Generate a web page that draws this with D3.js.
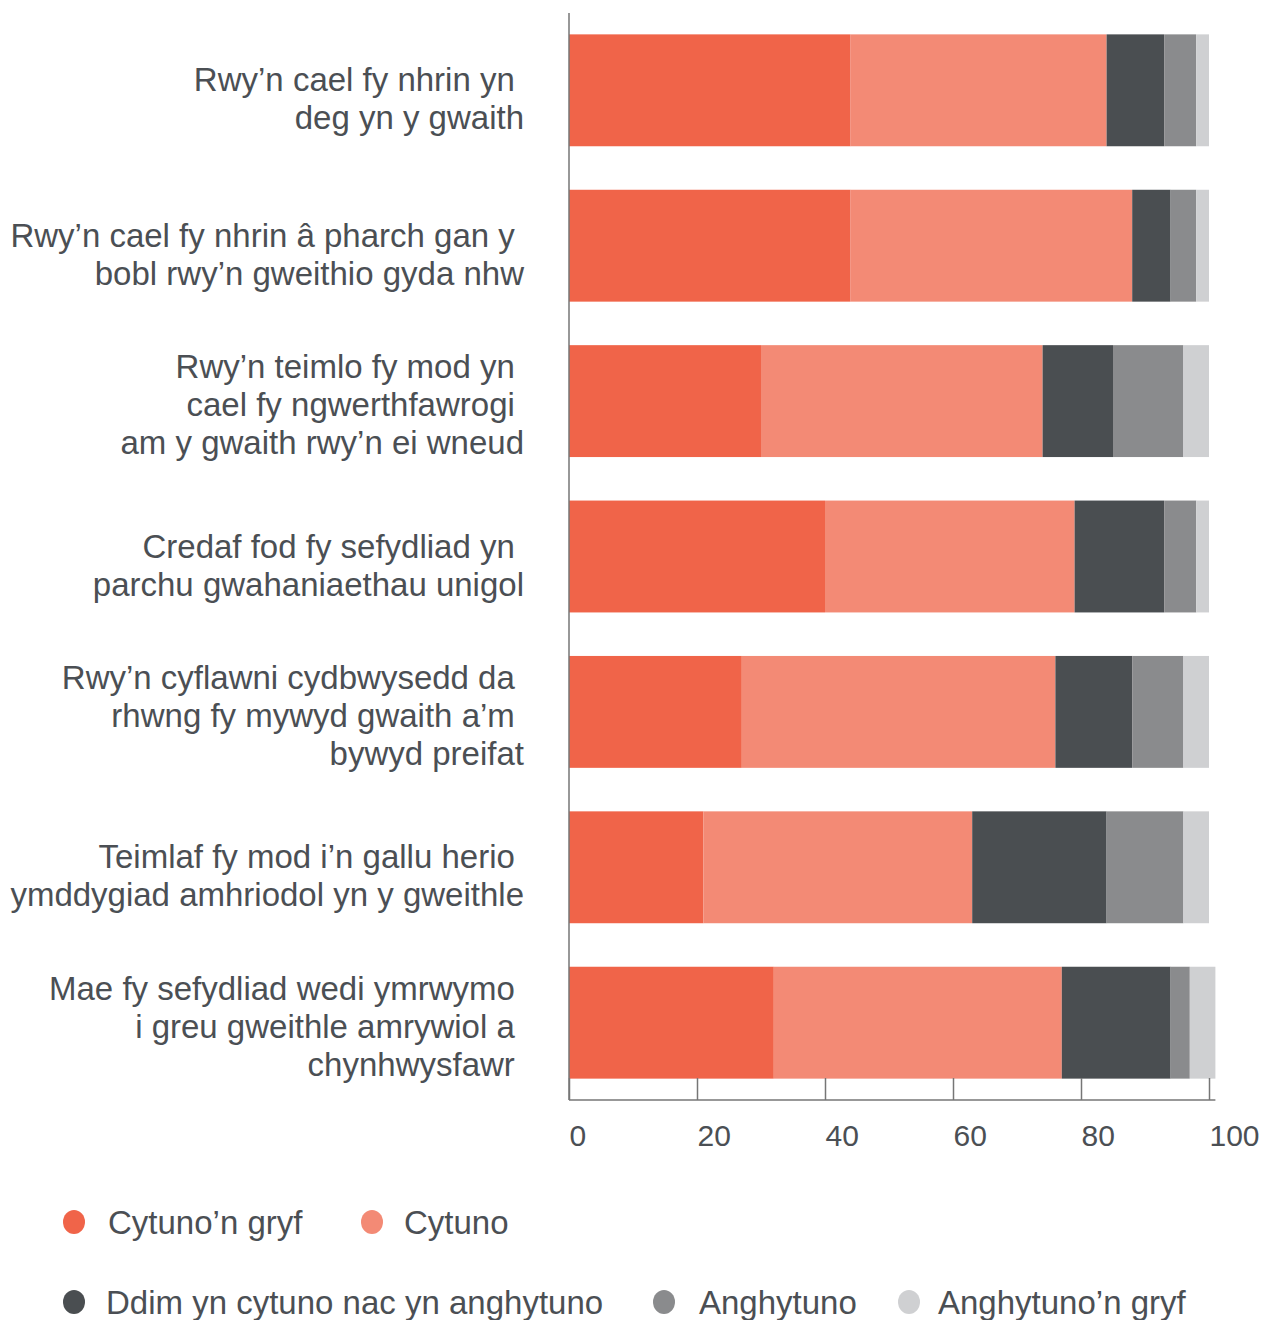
<!DOCTYPE html>
<html lang="cy">
<head>
<meta charset="UTF-8">
<title>Stacked bar</title>
<script src="https://d3js.org/d3.v7.min.js"></script>
<style>
  body { margin: 0; background: #fff; font-family: "Liberation Sans", Arial, sans-serif; }
  svg text { fill: #4b4f54; }
</style>
</head>
<body>
<script>
// categories (each entry is the lines of a wrapped label)
const categories = [
  ["Rwy’n cael fy nhrin yn ", "deg yn y gwaith"],
  ["Rwy’n cael fy nhrin â pharch gan y ", "bobl rwy’n gweithio gyda nhw"],
  ["Rwy’n teimlo fy mod yn ", "cael fy ngwerthfawrogi ", "am y gwaith rwy’n ei wneud"],
  ["Credaf fod fy sefydliad yn ", "parchu gwahaniaethau unigol"],
  ["Rwy’n cyflawni cydbwysedd da ", "rhwng fy mywyd gwaith a’m ", "bywyd preifat"],
  ["Teimlaf fy mod i’n gallu herio ", "ymddygiad amhriodol yn y gweithle"],
  ["Mae fy sefydliad wedi ymrwymo ", "i greu gweithle amrywiol a ", "chynhwysfawr "]
];
const seriesNames = ["Cytuno’n gryf", "Cytuno", "Ddim yn cytuno nac yn anghytuno", "Anghytuno", "Anghytuno’n gryf"];
const stronglyAgree    = [44, 44, 30, 40, 27, 21, 32];
const agree            = [40, 44, 44, 39, 49, 42, 45];
const neutral          = [9, 6, 11, 14, 12, 21, 17];
const disagree         = [5, 4, 11, 5, 8, 12, 3];
const stronglyDisagree = [2, 2, 4, 2, 4, 4, 4];
const xTicks = [0, 20, 40, 60, 80, 100];
const colors = ["#f06449", "#f38a75", "#4a4e51", "#8a8b8d", "#cfd0d2"];

const width = 1264, height = 1320;
const svg = d3.select("body").append("svg")
  .attr("width", width).attr("height", height);

const rows = categories.map((c, i) => ({
  key: i,
  v0: stronglyAgree[i], v1: agree[i], v2: neutral[i], v3: disagree[i], v4: stronglyDisagree[i]
}));
const keys = ["v0", "v1", "v2", "v3", "v4"];
const stacked = d3.stack().keys(keys)(rows);

const x = d3.scaleLinear().domain([0, 100]).range([569, 1209]);
const y = d3.scaleBand().domain(d3.range(categories.length))
  .range([13, 1100]).paddingInner(0.28).paddingOuter(0.1375);

// bars
svg.append("g").selectAll("g")
  .data(stacked).enter().append("g")
  .attr("fill", (d, i) => colors[i])
  .selectAll("rect")
  .data(d => d).enter().append("rect")
  .attr("x", d => x(d[0]))
  .attr("y", d => y(d.data.key))
  .attr("width", d => x(d[1]) - x(d[0]))
  .attr("height", y.bandwidth());

// axes
const maxTotal = d3.max(rows, r => keys.reduce((s, k) => s + r[k], 0));
const axisY = 1100;
svg.append("line")
  .attr("x1", x(0)).attr("x2", x(0))
  .attr("y1", 13).attr("y2", axisY)
  .attr("stroke", "#767676").attr("stroke-width", 1.5);
svg.append("line")
  .attr("x1", x(0)).attr("x2", x(maxTotal))
  .attr("y1", axisY).attr("y2", axisY)
  .attr("stroke", "#767676").attr("stroke-width", 1.5);

const xAxis = svg.append("g").attr("transform", `translate(0,${axisY})`)
  .call(d3.axisBottom(x).tickValues(xTicks).tickSize(-22).tickFormat(d3.format("d")));
xAxis.select(".domain").remove();
xAxis.selectAll(".tick line").attr("stroke", "#767676").attr("stroke-width", 1.5);
xAxis.selectAll(".tick text")
  .attr("text-anchor", "start")
  .attr("x", 0).attr("y", 46)
  .attr("dy", "0")
  .style("font-size", "30px")
  .style("font-family", "'Liberation Sans', Arial, sans-serif")
  .style("fill", "#4b4f54");

// category labels
const lineH = 38;
const lbl = svg.append("g").selectAll("text")
  .data(categories).enter().append("text")
  .attr("text-anchor", "end")
  .attr("xml:space", "preserve")
  .style("white-space", "pre")
  .style("font-size", "33px")
  .attr("transform", (d, i) => {
    const cy = y(i) + y.bandwidth() / 2;
    const top = cy - (d.length - 1) * lineH / 2 + (d.length === 2 ? 20 : 15);
    return `translate(524,${top})`;
  });
lbl.selectAll("tspan")
  .data(d => d).enter().append("tspan")
  .attr("x", 0)
  .attr("y", (d, j) => j * lineH)
  .text(d => d);

// legend
const legendItems = [
  { i: 0, cx: 74, tx: 108, cy: 1222 },
  { i: 1, cx: 372, tx: 404, cy: 1222 },
  { i: 2, cx: 74, tx: 106, cy: 1302 },
  { i: 3, cx: 664, tx: 699, cy: 1302 },
  { i: 4, cx: 909, tx: 938, cy: 1302 }
];
const leg = svg.append("g").selectAll("g")
  .data(legendItems).enter().append("g");
leg.append("ellipse")
  .attr("cx", d => d.cx).attr("cy", d => d.cy)
  .attr("rx", 11).attr("ry", 12)
  .attr("fill", d => colors[d.i]);
leg.append("text")
  .attr("x", d => d.tx).attr("y", d => d.cy + 12)
  .style("font-size", "33px")
  .text(d => seriesNames[d.i]);
</script>
</body>
</html>
